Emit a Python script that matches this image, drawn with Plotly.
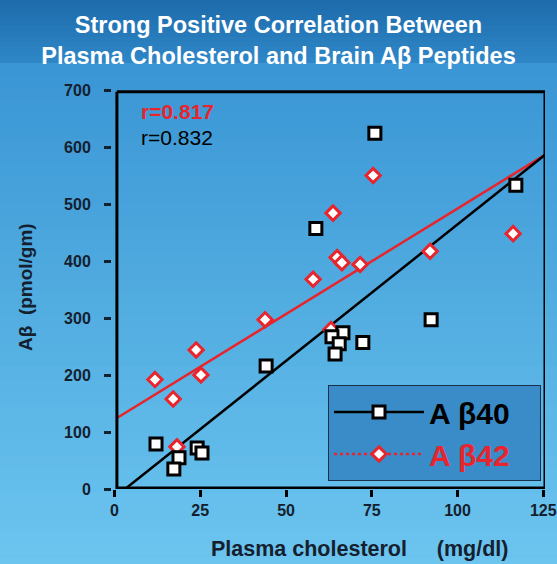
import plotly.graph_objects as go

# ---------------- data ----------------
ab40_x = [75.9, 117.0, 58.7, 92.3, 66.6, 63.4, 65.5, 64.3, 72.4, 44.2, 12.1, 24.1, 25.5, 18.8, 17.3]
ab40_y = [624, 533, 457, 297, 274, 267, 255, 237, 257, 216, 79, 72, 63, 55, 35]

ab42_x = [75.4, 63.7, 64.9, 66.3, 71.6, 57.9, 92.0, 116.2, 43.9, 23.8, 11.8, 17.1, 25.2, 18.2, 63.1]
ab42_y = [550, 484, 406, 397, 394, 368, 417, 448, 297, 244, 192, 158, 200, 74, 280]

fit40_slope, fit40_intercept = 4.79, -14.8
fit42_slope, fit42_intercept = 3.70, 122.0
fit40_xspan = [3.1, 125.5]
fit42_xspan = [0.7, 125.5]

r40_label = "r=0.832"
r42_label = "r=0.817"

x_ticks = [0, 25, 50, 75, 100, 125]
y_ticks = [0, 100, 200, 300, 400, 500, 600, 700]

# ---------------- styling ----------------
FONT = "Liberation Sans, Arial, sans-serif"
DARK = "#15202e"
RED = "#e8242c"
PAD = "\u00a0\u00a0\u00a0"

fit40_y = [fit40_slope * v + fit40_intercept for v in fit40_xspan]
fit42_y = [fit42_slope * v + fit42_intercept for v in fit42_xspan]

fig = go.Figure()

# regression lines
fig.add_trace(go.Scatter(x=fit42_xspan, y=fit42_y, mode="lines",
                         line=dict(color=RED, width=2.5), showlegend=False, hoverinfo="skip"))
fig.add_trace(go.Scatter(x=fit40_xspan, y=fit40_y, mode="lines",
                         line=dict(color="black", width=2.5), showlegend=False, hoverinfo="skip"))

# data points
fig.add_trace(go.Scatter(x=ab42_x, y=ab42_y, mode="markers", showlegend=False,
                         marker=dict(symbol="diamond", size=11, color="white",
                                     line=dict(color=RED, width=3))))
fig.add_trace(go.Scatter(x=ab40_x, y=ab40_y, mode="markers", showlegend=False,
                         marker=dict(symbol="square", size=12, color="white",
                                     line=dict(color="black", width=3))))

# legend entries
fig.add_trace(go.Scatter(x=[None], y=[None], mode="lines+markers", name="A β40" + PAD,
                         line=dict(color="black", width=2.5),
                         marker=dict(symbol="square", size=12, color="white",
                                     line=dict(color="black", width=3))))
fig.add_trace(go.Scatter(x=[None], y=[None], mode="lines+markers",
                         name="<span style='color:%s'>A β42</span>" % RED + PAD,
                         line=dict(color=RED, width=2.5, dash="dot"),
                         marker=dict(symbol="diamond", size=11, color="white",
                                     line=dict(color=RED, width=3))))

# ---------------- background gradient ----------------
def lerp(c0, c1, t):
    return "rgb(%d,%d,%d)" % tuple(round(a + (b - a) * t) for a, b in zip(c0, c1))

shapes = []
PX0, PW, PY0, PH = 112, 433, 489, 399   # plot area in pixels
def py(p):
    return (PY0 - p) / PH
def pxx(p):
    return (p - PX0) / PW

# title band
n = 12
for i in range(n):
    a, b = 63 * i / n, 63 * (i + 1) / n
    shapes.append(dict(type="rect", xref="paper", yref="paper", layer="below",
                       x0=pxx(-5), x1=pxx(565), y0=py(b + 0.5), y1=py(a),
                       fillcolor=lerp((30, 108, 172), (46, 134, 198), i / (n - 1)),
                       line=dict(width=0)))
# chart region
n = 40
for i in range(n):
    a, b = 63 + (569 - 63) * i / n, 63 + (569 - 63) * (i + 1) / n
    shapes.append(dict(type="rect", xref="paper", yref="paper", layer="below",
                       x0=pxx(-5), x1=pxx(565), y0=py(b + 0.5), y1=py(a),
                       fillcolor=lerp((58, 150, 212), (108, 197, 239), i / (n - 1)),
                       line=dict(width=0)))

# frame
shapes += [
    dict(type="line", xref="x", yref="y", x0=0.7, x1=125.5, y0=0, y1=0, line=dict(color="black", width=5)),
    dict(type="line", xref="x", yref="y", x0=0.7, x1=0.7, y0=0, y1=697, line=dict(color="black", width=3)),
    dict(type="line", xref="x", yref="y", x0=0.7, x1=125.5, y0=697, y1=697, line=dict(color="black", width=3)),
    dict(type="line", xref="x", yref="y", x0=125.5, x1=125.5, y0=0, y1=697, line=dict(color="black", width=3)),
]

annotations = [
    dict(x=7.1, y=663, xref="x", yref="y", text="<b>%s</b>" % r42_label, showarrow=False,
         xanchor="left", yanchor="middle", font=dict(family=FONT, size=21, color=RED)),
    dict(x=7.1, y=616, xref="x", yref="y", text=r40_label, showarrow=False,
         xanchor="left", yanchor="middle", font=dict(family=FONT, size=21, color="black")),
    dict(x=pxx(360), y=py(549), xref="paper", yref="paper",
         text="<b>Plasma cholesterol     (mg/dl)</b>", showarrow=False,
         xanchor="center", yanchor="middle", font=dict(family=FONT, size=21.5, color=DARK)),
    dict(x=pxx(25), y=py(287), xref="paper", yref="paper", textangle=-90,
         text="<b>Aβ  (pmol/gm)</b>", showarrow=False,
         xanchor="center", yanchor="middle", font=dict(family=FONT, size=19, color=DARK)),
]

fig.update_layout(
    width=557, height=564,
    margin=dict(l=PX0, r=557 - PX0 - PW, t=90, b=564 - PY0, autoexpand=False),
    paper_bgcolor="rgb(70,160,220)",
    plot_bgcolor="rgba(0,0,0,0)",
    title=dict(text="<b>Strong Positive Correlation Between<br>Plasma Cholesterol and Brain Aβ Peptides</b>",
               x=0.5, xanchor="center", y=1 - 33 / 564, yanchor="middle",
               font=dict(family=FONT, size=23.5, color="white")),
    xaxis=dict(range=[-0.73, 125.5], tickvals=x_ticks, ticktext=[str(v) for v in x_ticks],
               showgrid=False, zeroline=False, showline=False, automargin=False,
               ticks="outside", ticklen=7, tickwidth=2.5, tickcolor="black",
               tickfont=dict(family=FONT, size=16, color=DARK, weight="bold")),
    yaxis=dict(range=[0, 700], tickvals=y_ticks, ticktext=[str(v) for v in y_ticks],
               showgrid=False, zeroline=False, showline=False, automargin=False,
               ticks="outside", ticklen=7, tickwidth=2.5, tickcolor=DARK,
               ticklabelstandoff=10,
               tickfont=dict(family=FONT, size=16, color=DARK, weight="bold")),
    legend=dict(x=pxx(328), y=py(385), xanchor="left", yanchor="top",
                bgcolor="rgb(58,140,200)", bordercolor="#1b2f4a", borderwidth=1,
                itemwidth=90,
                font=dict(family=FONT, size=30, color="black", weight="bold"),
                itemclick=False, itemdoubleclick=False),
    shapes=shapes,
    annotations=annotations,
    showlegend=True,
)

fig.write_html("out.html", config={"displayModeBar": False},
               post_script="document.body.style.margin='0';document.body.style.overflow='hidden';")
